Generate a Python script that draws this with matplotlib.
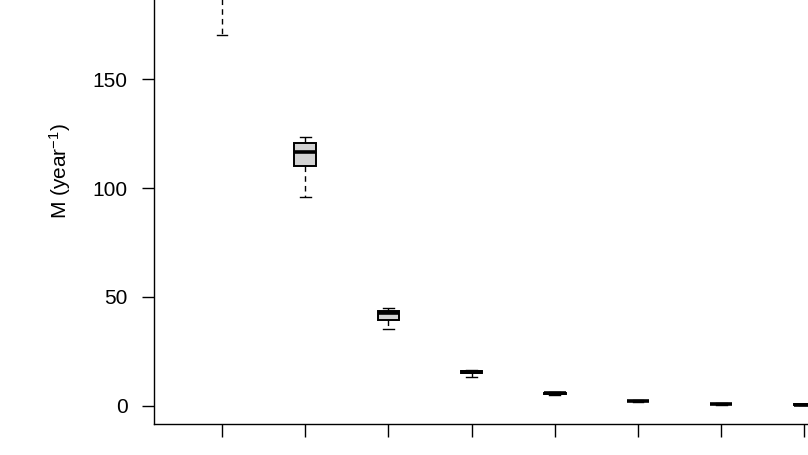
import matplotlib
matplotlib.use("Agg")
import matplotlib.pyplot as plt

plt.rcParams["font.family"] = ["Liberation Sans", "DejaVu Sans"]
plt.rcParams["mathtext.default"] = "regular"

# box statistics (M, year^-1)
positions = [1, 2, 3, 4, 5, 6, 7, 8]
whislo = [170.4, 96.0, 35.0, 13.0, 5.0, 1.7, 0.4, 0.2]
q1 = [195.0, 110.3, 39.4, 14.9, 5.2, 1.9, 0.5, 0.3]
med = [200.0, 116.7, 42.4, 15.3, 5.6, 2.1, 0.7, 0.4]
q3 = [205.0, 120.6, 43.6, 15.8, 5.9, 2.3, 0.9, 0.5]
whishi = [215.0, 123.6, 44.7, 16.2, 6.2, 2.5, 1.0, 0.6]

yticks = [0, 50, 100, 150]

stats = []
for lo, a, m, b, hi in zip(whislo, q1, med, q3, whishi):
    stats.append({"whislo": lo, "q1": a, "med": m, "q3": b, "whishi": hi,
                  "fliers": []})

fig = plt.figure(figsize=(8.08, 4.55), dpi=100)
ax = fig.add_axes([154 / 808, 31 / 455, (808 - 154) / 808, 424 / 455])

ax.bxp(stats, positions=positions, widths=0.26, capwidths=0.13,
       patch_artist=True, showfliers=False,
       boxprops=dict(facecolor="#d3d3d3", edgecolor="black", linewidth=1.4),
       medianprops=dict(color="black", linewidth=2.6, solid_capstyle="butt"),
       whiskerprops=dict(color="black", linewidth=1.0, linestyle=(0, (4, 3))),
       capprops=dict(color="black", linewidth=1.0))

ax.set_xlim(1 - 68 / 83.2, 1 + (808 - 222) / 83.2)
ax.set_ylim(-8.5, 186.5)

for s in ["top", "right"]:
    ax.spines[s].set_visible(False)
ax.spines["left"].set_linewidth(1.0)
ax.spines["bottom"].set_linewidth(1.0)

ax.set_xticks(positions)
ax.set_xticklabels([])
ax.set_yticks(yticks)
ax.set_yticklabels([str(v) for v in yticks], fontsize=15)
ax.tick_params(axis="both", direction="out", length=9, width=1.0)
ax.tick_params(axis="y", pad=10)

fig.text(60 / 808, 1 - 171 / 455, "M (year$^{-1}$)", rotation=90,
         ha="center", va="center", fontsize=15)

fig.savefig("out.png", dpi=100)
